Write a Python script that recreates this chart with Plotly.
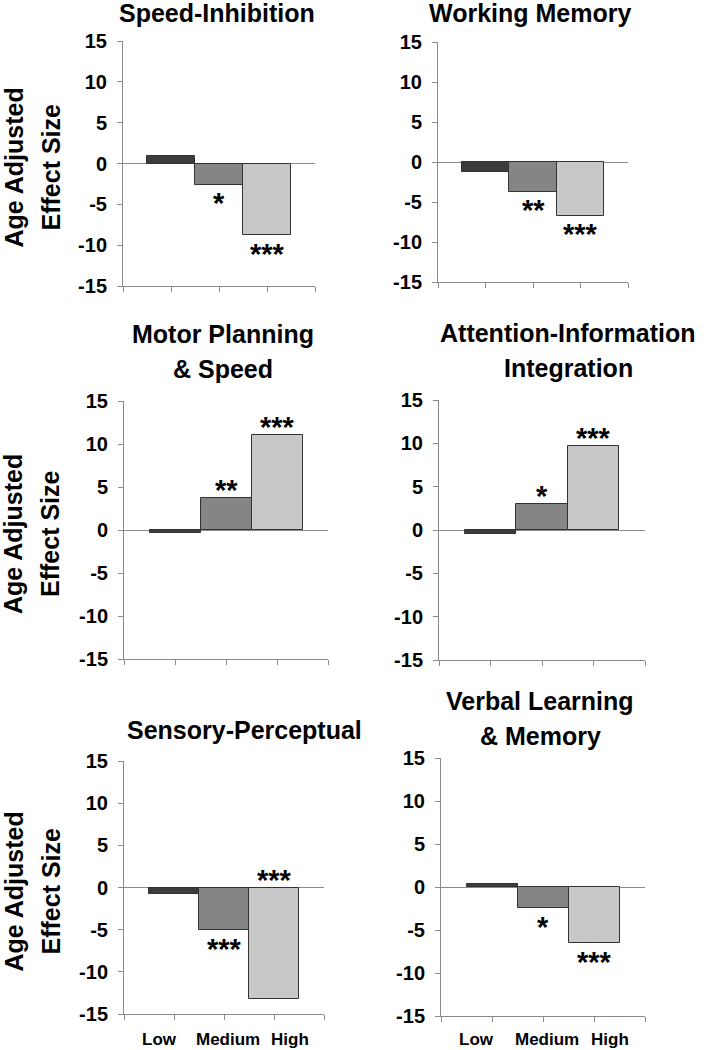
import plotly.graph_objects as go

# ---------------- data ----------------
panel_titles = [
    ["Speed-Inhibition"],
    ["Working Memory"],
    ["Motor Planning", "& Speed"],
    ["Attention-Information", "Integration"],
    ["Sensory-Perceptual"],
    ["Verbal Learning", "& Memory"],
]
levels = ["Low", "Medium", "High"]
speed_inhibition = [0.9, -2.6, -8.8]
working_memory = [-1.3, -3.7, -6.7]
motor_planning = [-0.4, 3.7, 11.1]
attention_integration = [-0.5, 3.0, 9.7]
sensory_perceptual = [-0.8, -5.0, -13.2]
verbal_learning = [0.3, -2.4, -6.5]
panel_values = [speed_inhibition, working_memory, motor_planning,
                attention_integration, sensory_perceptual, verbal_learning]
# significance stars per level (Low, Medium, High)
stars = [
    ["", "*", "***"],
    ["", "**", "***"],
    ["", "**", "***"],
    ["", "*", "***"],
    ["", "***", "***"],
    ["", "*", "***"],
]
y_ticks = [-15, -10, -5, 0, 5, 10, 15]
y_tick_text = ["-15", "-10", "-5", "0", "5", "10", "15"]
y_title = ["Age Adjusted", "Effect Size"]

# ---------------- layout constants ----------------
W, H = 707, 1050
# panel pixel boxes: left, right, top(15), bottom(-15)
boxes = [
    (123, 315, 41, 286),
    (438, 628, 42, 282),
    (124, 328, 401, 659),
    (439, 645, 400, 660),
    (124, 324, 761, 1014),
    (441, 645, 758, 1016),
]
title_pos = [  # center x px, list of line-center y px (None = pinned to top edge)
    (217, [None]),
    (530, [None]),
    (223, [336, 371]),
    (568, [335, 370]),
    (244, [732]),
    (540, [703, 738]),
]
# special star placement: (panel, level) -> y in data units (others follow bar ends)
star_override = {(4, 2): 1.4}
bar_colors = ["#3c3c3c", "#858585", "#c8c8c8"]
label_x = [0.70, 2.07, 3.32]
FONT = "Liberation Sans"
AXC = "#8a8a8a"

fig = go.Figure()
annotations = []

for i, vals in enumerate(panel_values):
    n = i + 1
    xa = "x" if n == 1 else f"x{n}"
    ya = "y" if n == 1 else f"y{n}"
    fig.add_trace(go.Bar(
        x=[1, 2, 3], y=vals, width=1.0,
        marker=dict(color=bar_colors, line=dict(color="#333333", width=1)),
        xaxis=xa, yaxis=ya, showlegend=False, hoverinfo="skip",
    ))
    l, r, t, b = boxes[i]
    xdom = [l / W, r / W]
    ydom = [1 - b / H, 1 - t / H]
    xkey = "xaxis" if n == 1 else f"xaxis{n}"
    ykey = "yaxis" if n == 1 else f"yaxis{n}"
    fig.update_layout(**{
        xkey: dict(domain=xdom, range=[0, 4], anchor=ya, showline=True,
                   linecolor=AXC, linewidth=1, ticks="outside", ticklen=5,
                   tickcolor=AXC, tickvals=[0, 1, 2, 3, 4],
                   showticklabels=False, showgrid=False, zeroline=False,
                   fixedrange=True, automargin=False),
        ykey: dict(domain=ydom, range=[-15, 15], anchor=xa, showline=True,
                   linecolor=AXC, linewidth=1, ticks="outside", ticklen=5,
                   tickcolor=AXC, tickvals=y_ticks, ticktext=y_tick_text,
                   tickfont=dict(family=FONT, size=20, color="black", weight="bold"),
                   ticklabelstandoff=6, automargin=False,
                   showgrid=False, zeroline=True, zerolinecolor=AXC,
                   zerolinewidth=1, fixedrange=True),
    })
    # titles
    cx, ys = title_pos[i]
    for line, ypx in zip(panel_titles[i], ys):
        if ypx is None:
            annotations.append(dict(
                text=line, x=cx / W, y=1.0, xref="paper", yref="paper",
                xanchor="center", yanchor="top", showarrow=False,
                borderpad=0, yshift=2,
                font=dict(family=FONT, size=25, color="black", weight="bold")))
        else:
            annotations.append(dict(
                text=line, x=cx / W, y=1 - ypx / H, xref="paper", yref="paper",
                xanchor="center", yanchor="middle", showarrow=False, yshift=2,
                font=dict(family=FONT, size=25, color="black", weight="bold")))
    # stars
    for j, s in enumerate(stars[i]):
        if not s:
            continue
        v = vals[j]
        if (i, j) in star_override:
            sy = star_override[(i, j)]
        elif v >= 0:
            sy = v + 1.4
        else:
            sy = v - 1.8
        annotations.append(dict(
            text=s, x=j + 1, y=sy, xref=xa, yref=ya, xanchor="center",
            yanchor="middle", showarrow=False, yshift=-4,
            font=dict(family=FONT, size=29, color="black", weight="bold")))
    # y titles (left column)
    if i % 2 == 0:
        cy = 1 - ((t + b) / 2 + 4) / H
        for txt, xpx in zip(y_title, [13, 50]):
            annotations.append(dict(
                text=txt, x=xpx / W, y=cy, xref="paper", yref="paper",
                xanchor="center", yanchor="middle", textangle=-90,
                showarrow=False,
                font=dict(family=FONT, size=25, color="black", weight="bold")))
    # x labels (bottom row)
    if i >= 4:
        for lab, lx in zip(levels, label_x):
            annotations.append(dict(
                text=lab, x=lx, y=1 - 1039 / H, xref=xa, yref="paper",
                xanchor="center", yanchor="middle", showarrow=False,
                font=dict(family=FONT, size=17, color="black", weight="bold")))

fig.update_layout(
    width=W, height=H, margin=dict(l=0, r=0, t=0, b=0, pad=0, autoexpand=False),
    paper_bgcolor="white", plot_bgcolor="white",
    annotations=annotations, bargap=0,
)
fig.write_html("out.html", config={"displayModeBar": False},
               post_script="document.body.style.margin='0px';"
                           "document.body.style.overflow='hidden';")
